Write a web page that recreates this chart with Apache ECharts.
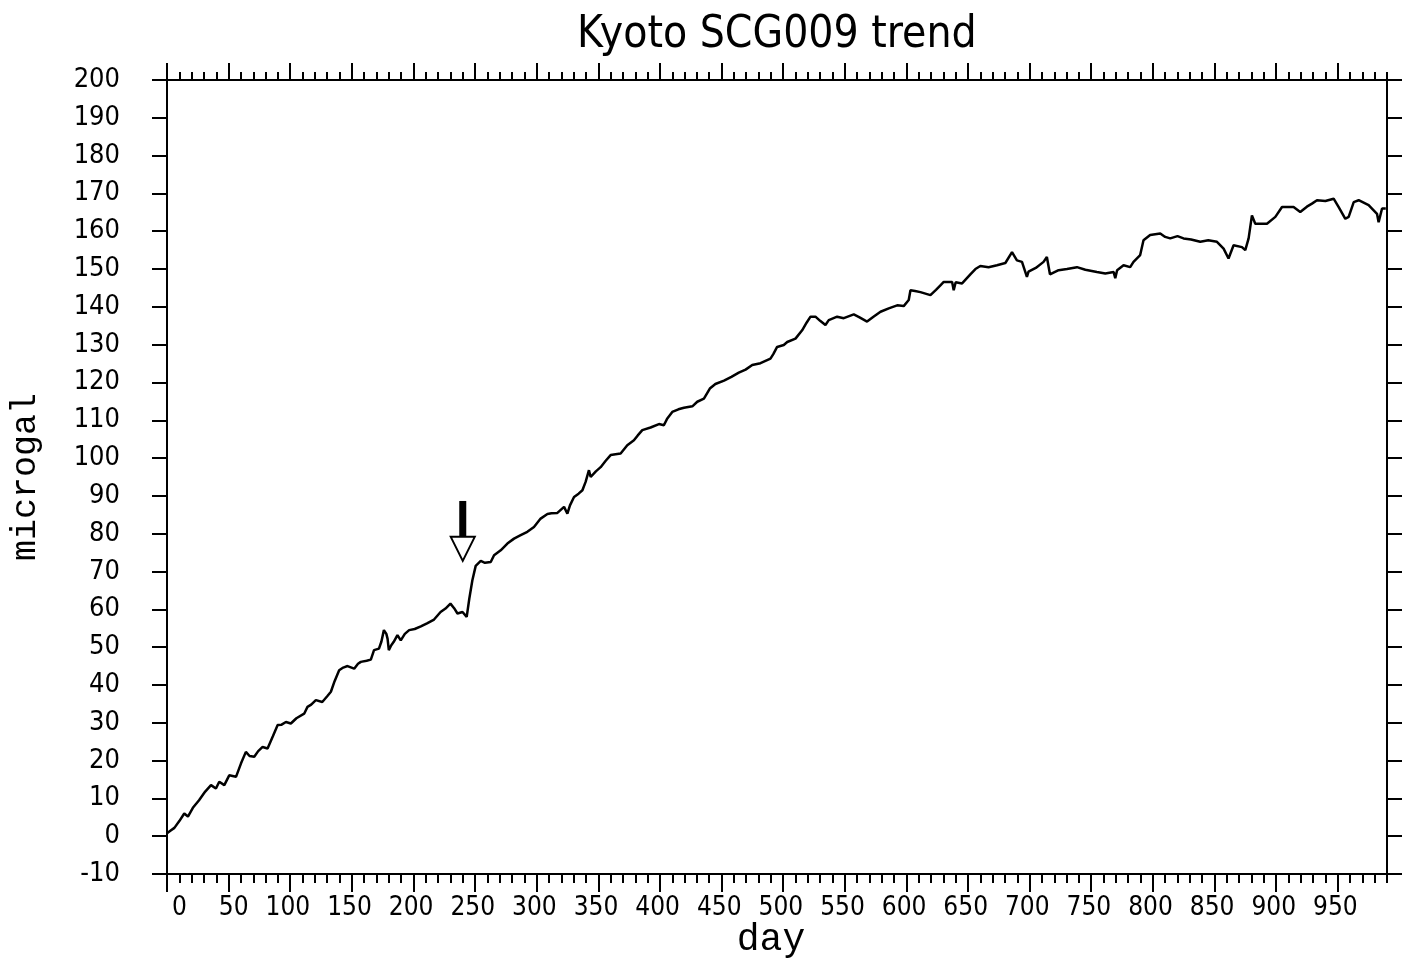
<!DOCTYPE html>
<html>
<head>
<meta charset="utf-8">
<title>Kyoto SCG009 trend</title>
<script src="https://cdn.jsdelivr.net/npm/echarts@6/dist/echarts.min.js"></script>
<style>
  html, body { margin: 0; padding: 0; background: #fff; }
  #chart { width: 1406px; height: 959px; }
</style>
</head>
<body>
<div id="chart"></div>
<script>
// Gravimeter drift record: elapsed day vs. gravity residual (microgal)
const days = [
  0, 3, 6, 10, 14, 17, 21, 26, 31, 35.7, 39.7, 42.4, 46.5, 50.5, 56, 60, 64, 67, 70.8, 74,
  77.6, 81.6, 86, 89.8, 93, 96.5, 100.5, 105, 111.3, 114, 117, 120.8, 126, 130, 133, 136,
  139.7, 143, 146.5, 151.9, 155, 157.3, 162, 165.4, 168, 172, 174, 176, 178, 179, 180, 182,
  184, 187, 189.7, 193, 196.5, 201, 206, 211, 216.7, 222, 226, 230, 233, 235.7, 239.8, 243.2,
  245.3, 247.8, 250.5, 254.6, 258, 262.7, 265.4, 270.8, 276.2, 281.6, 287, 292.4, 297.8,
  303.2, 308.7, 312, 316.8, 322.2, 324.9, 327, 330.3, 334, 337.1, 339.7, 342.4, 343.8, 348,
  351.9, 356, 360, 364, 368.1, 373.5, 378.9, 382, 385.7, 392.4, 399.2, 403.2, 406, 410, 415,
  419.5, 426.3, 430.3, 435.7, 440.5, 445, 452, 458, 464, 469.5, 474.9, 481.6, 489.7, 492,
  495.1, 500.5, 503.3, 510, 515.4, 519, 522.2, 526.2, 530, 534.3, 537, 543.8, 549.2, 557.3,
  562, 568.1, 573, 579, 585.7, 592.5, 597.8, 601.9, 603.3, 607, 611.4, 619.5, 624, 627.6,
  630.3, 637.1, 638.4, 640, 645.2, 651.9, 656, 660, 666.7, 673.5, 680.3, 685.7, 689.7, 693.8,
  697.8, 699.1, 705, 711.3, 714, 716.5, 723.5, 730.3, 738.4, 745.2, 754.6, 761.4, 768.2,
  769.5, 771, 776.2, 781.6, 784.3, 789.7, 792.4, 797.8, 806, 810, 814.1, 820, 824.9, 831,
  838.5, 845, 852, 857.4, 861.4, 865.5, 872.3, 875, 877.7, 880.4, 883.1, 892.6, 899.4, 904.8,
  914.2, 919.6, 925, 929.1, 933.2, 940, 946.7, 950.8, 956.2, 958.9, 963, 967, 975.1, 981.9,
  983.2, 986, 989
];
const microgal = [
  0.8, 1.5, 2.2, 4.0, 6.0, 5.2, 7.5, 9.5, 11.8, 13.5, 12.6, 14.4, 13.5, 16.1, 15.7, 19.2, 22.3, 21.2, 21.0, 22.5,
  23.6, 23.2, 26.5, 29.4, 29.5, 30.2, 29.8, 31.2, 32.4, 34.2, 34.8, 36.0, 35.5, 37.0, 38.2, 41.0,
  43.9, 44.6, 45.0, 44.3, 45.6, 46.1, 46.4, 46.7, 49.2, 49.6, 51.5, 54.5, 53.5, 52.2, 49.2, 50.5,
  51.4, 53.2, 51.8, 53.5, 54.5, 54.8, 55.5, 56.3, 57.3, 59.3, 60.2, 61.5, 60.3, 58.9, 59.3, 58.0,
  62.8, 67.7, 71.5, 72.8, 72.3, 72.5, 74.3, 75.6, 77.4, 78.7, 79.6, 80.5, 81.8,
  84.0, 85.2, 85.4, 85.5, 87.1, 85.3, 87.5, 89.7, 90.6, 91.5, 93.7, 96.8, 95.0, 96.5,
  97.6, 99.3, 100.8, 101.0, 101.2, 103.4, 104.7, 106.0, 107.4, 108.1, 109.0, 108.7, 110.5, 112.2, 112.9,
  113.3, 113.7, 114.9, 115.7, 118.4, 119.6, 120.5, 121.5, 122.6, 123.4, 124.6, 125.1, 126.3, 127.5,
  129.4, 129.9, 130.7, 131.6, 133.8, 135.8, 137.4, 137.4, 136.3, 135.2, 136.5, 137.4, 137.0, 138.0,
  137.2, 136.1, 137.3, 138.7, 139.6, 140.4, 140.2, 141.8, 144.4, 144.2, 143.9, 143.1, 144.5, 145.7,
  146.6, 146.6, 144.4, 146.5, 146.2, 148.6, 150.0, 150.8, 150.5, 151.0, 151.6, 154.5, 152.3, 151.9,
  147.9, 149.3, 150.3, 151.9, 153.2, 148.6, 149.7, 150.0, 150.5, 149.8, 149.2, 148.8, 149.2,
  147.6, 149.7, 151.0, 150.5, 151.9, 153.7, 157.6, 159.0, 159.4, 158.5, 158.1, 158.7, 158.1, 157.8,
  157.2, 157.6, 157.2, 155.4, 152.8, 156.3, 155.8, 155.0, 158.1, 164.2, 162.0, 162.0, 163.8, 166.4,
  166.4, 165.1, 166.5, 167.3, 168.2, 168.0, 168.6, 166.4, 163.3, 163.8, 167.7, 168.2, 166.9, 164.6,
  162.4, 166.0, 166.0
];

// Axis ranges and tick labels
const dayMin = 0, dayMax = 990;
const gMin = -10, gMax = 200;
const dayTickLabels = [0, 50, 100, 150, 200, 250, 300, 350, 400, 450, 500, 550, 600, 650, 700, 750, 800, 850, 900, 950];

// Annotation: day where the step in the record begins
const arrowDay = 240;
const arrowShaftValue = 83.9;
const arrowHeadValue = 76.0;

const labelFont = '"Liberation Sans Narrow", "DejaVu Sans Condensed", "Liberation Sans", sans-serif';
const nameFont = '"Liberation Mono", "DejaVu Sans Mono", monospace';

const chart = echarts.init(document.getElementById('chart'), null, { renderer: 'canvas' });

const lineCol = '#000';
const axisLine = { show: true, onZero: false, lineStyle: { color: lineCol, width: 2 } };

function xAxisDef(position, tickLen, major, withLabels) {
  const ax = {
    type: 'value',
    position: position,
    min: dayMin,
    max: dayMax,
    interval: major ? 50 : 10,
    axisLine: axisLine,
    splitLine: { show: false },
    axisTick: {
      show: true, inside: false, length: tickLen,
      lineStyle: { color: lineCol, width: 2 }
    },
    axisLabel: { show: false }
  };
  if (major) {
    ax.axisTick.customValues = dayTickLabels;
  }
  if (withLabels) {
    ax.axisLabel = {
      show: true,
      customValues: dayTickLabels,
      margin: 21,
      color: '#000',
      fontFamily: labelFont,
      fontSize: 26,
      formatter: v => '{n|' + v + '}',
      rich: { n: { width: 40, align: 'right', fontFamily: labelFont, fontSize: 26, color: '#000' } }
    };
    ax.name = 'day';
    ax.nameLocation = 'middle';
    ax.nameGap = 47;
    ax.nameMoveOverlap = false;
    ax.nameTextStyle = { fontFamily: nameFont, fontSize: 38, color: '#000', padding: [0, 12, 0, 0] };
  }
  return ax;
}

function yAxisDef(position, withLabels) {
  const ax = {
    type: 'value',
    position: position,
    min: gMin,
    max: gMax,
    interval: 10,
    axisLine: axisLine,
    splitLine: { show: false },
    axisTick: {
      show: true, inside: false, length: 15,
      lineStyle: { color: lineCol, width: 2 }
    },
    axisLabel: { show: false }
  };
  if (withLabels) {
    ax.axisLabel = {
      show: true, margin: 47, color: '#000',
      fontFamily: labelFont, fontSize: 27
    };
    ax.name = 'microgal';
    ax.nameLocation = 'middle';
    ax.nameRotate = 90;
    ax.nameGap = 124;
    ax.nameMoveOverlap = false;
    ax.nameTextStyle = { fontFamily: nameFont, fontSize: 35, color: '#000' };
  }
  return ax;
}

const option = {
  animation: false,
  backgroundColor: '#fff',
  title: {
    text: 'Kyoto SCG009 trend',
    left: 572,
    top: 9,
    textStyle: { fontFamily: labelFont, fontWeight: 'normal', fontSize: 44, color: '#000' }
  },
  grid: {
    left: 167, right: 19, top: 80, bottom: 85,
    containLabel: false,
    outerBoundsMode: 'none'
  },
  xAxis: [
    xAxisDef('bottom', 18, true, true),
    xAxisDef('bottom', 9, false, false),
    xAxisDef('top', 17, true, false),
    xAxisDef('top', 8, false, false)
  ],
  yAxis: [
    yAxisDef('left', true),
    yAxisDef('right', false)
  ],
  series: [{
    type: 'line',
    xAxisIndex: 0,
    yAxisIndex: 0,
    data: days.map((d, i) => [d, microgal[i]]),
    showSymbol: false,
    symbol: 'none',
    lineStyle: { color: lineCol, width: 2.5 },
    silent: true,
    markPoint: {
      silent: true,
      label: { show: false },
      data: [
        {
          coord: [arrowDay, arrowShaftValue],
          symbol: 'rect',
          symbolSize: [7, 36],
          itemStyle: { color: '#000' }
        },
        {
          coord: [arrowDay, arrowHeadValue],
          symbol: 'triangle',
          symbolRotate: 180,
          symbolSize: [24, 24],
          itemStyle: { color: '#fff', borderColor: '#000', borderWidth: 2 }
        }
      ]
    }
  }]
};

chart.setOption(option);
</script>
</body>
</html>
